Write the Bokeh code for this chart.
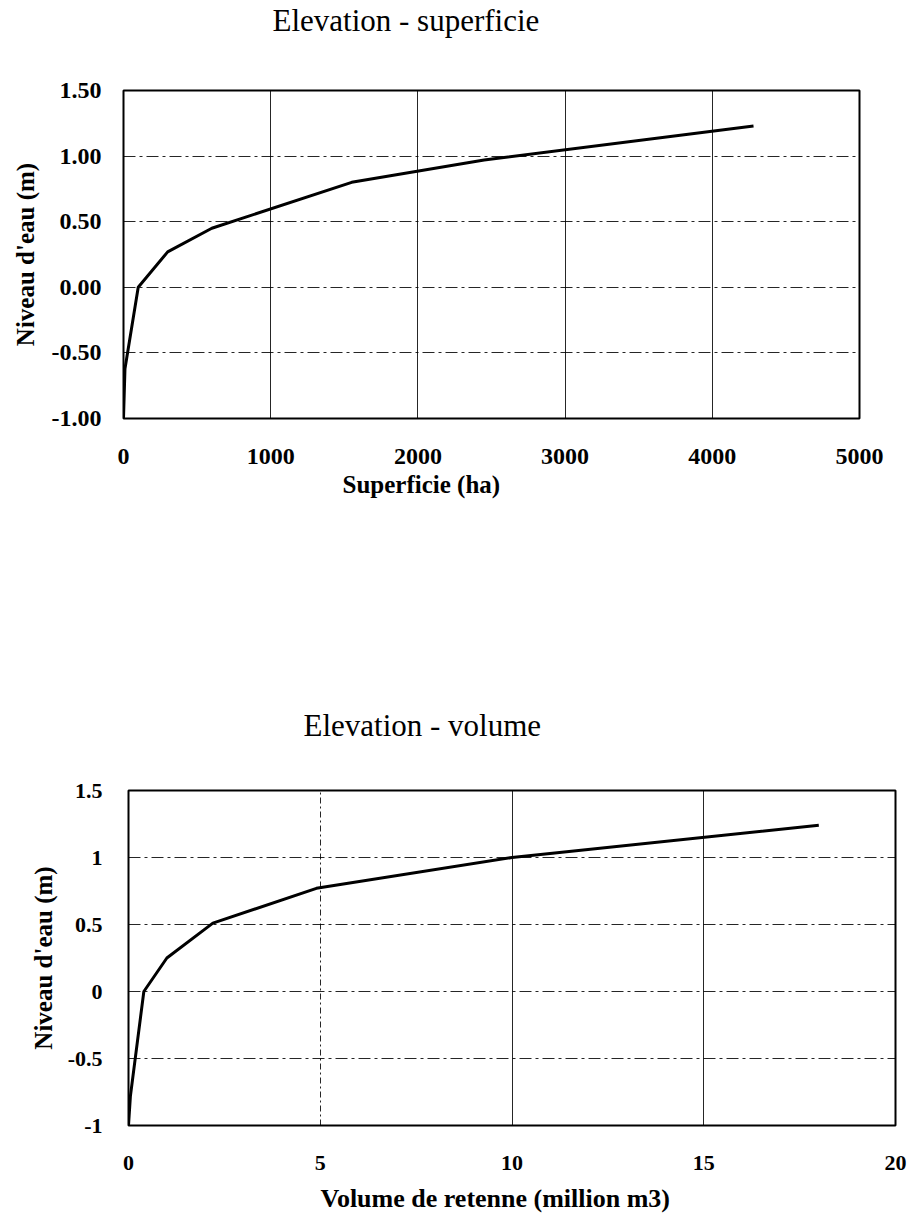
from bokeh.plotting import figure
from bokeh.layouts import column
from bokeh.models import Range1d, FixedTicker, Title, Grid
from bokeh.embed import file_html
from bokeh.resources import INLINE

# ---- data: Elevation - superficie ----
area_ha = [0, 10, 100, 300, 600, 1550, 2450, 4280]
level_area = [-1.0, -0.62, 0.0, 0.27, 0.45, 0.80, 0.97, 1.23]

# ---- data: Elevation - volume ----
volume_mm3 = [0, 0.05, 0.4, 1.0, 2.2, 4.9, 10.0, 18.0]
level_volume = [-1.0, -0.78, 0.0, 0.25, 0.51, 0.77, 1.0, 1.24]

# ---- ticks / labels ----
x1_ticks = [0, 1000, 2000, 3000, 4000, 5000]
y_ticks = [-1.0, -0.5, 0.0, 0.5, 1.0, 1.5]
y1_labels = ["-1.00", "-0.50", "0.00", "0.50", "1.00", "1.50"]
x2_ticks = [0, 5, 10, 15, 20]
x2_dashed_grid = [5]
x2_solid_grid = [10, 15]
y2_labels = ["-1", "-0.5", "0", "0.5", "1", "1.5"]

title1 = "Elevation - superficie"
title2 = "Elevation - volume"
xlabel1 = "Superficie (ha)"
xlabel2 = "Volume de retenne (million m3)"
ylabel = "Niveau d'eau (m)"

SERIF = "Liberation Serif"
DASHDOT = "12 4 3 4"


def style(p, xt, xgrid_t, yt, ylabels, tick_size, xstand, ystand, yl_size, yl_stand):
    p.outline_line_color = "black"
    p.outline_line_width = 2
    p.background_fill_color = "white"
    p.border_fill_color = "white"
    for ax in (p.xaxis[0], p.yaxis[0]):
        ax.axis_line_color = None
        ax.major_tick_line_color = None
        ax.minor_tick_line_color = None
        ax.major_label_text_font = SERIF
        ax.major_label_text_font_style = "bold"
        ax.major_label_text_font_size = f"{tick_size}px"
        ax.major_label_text_color = "black"
        ax.axis_label_text_font = SERIF
        ax.axis_label_text_font_style = "bold"
        ax.axis_label_text_color = "black"
    p.xaxis[0].ticker = FixedTicker(ticks=xt)
    p.yaxis[0].ticker = FixedTicker(ticks=yt)
    p.yaxis[0].major_label_overrides = {v: s for v, s in zip(yt, ylabels)}
    p.xaxis[0].major_label_standoff = xstand
    p.yaxis[0].major_label_standoff = ystand
    p.yaxis[0].axis_label_text_font_size = f"{yl_size}px"
    p.yaxis[0].axis_label_standoff = yl_stand
    p.xgrid.grid_line_color = "black"
    p.xgrid.grid_line_width = 1
    p.xgrid.grid_line_alpha = 0.85
    p.ygrid.grid_line_color = "black"
    p.ygrid.grid_line_width = 1
    p.ygrid.grid_line_alpha = 0.85
    p.ygrid.grid_line_dash = DASHDOT
    p.xgrid.ticker = FixedTicker(ticks=xgrid_t)
    p.ygrid.ticker = FixedTicker(ticks=yt)


def add_title(p, text, offset, gap):
    # empty spacer panel between the frame and the title
    p.add_layout(Title(text=" ", text_font_size="10px", standoff=gap), "above")
    p.add_layout(Title(text=text, text_font=SERIF, text_font_size="31px",
                       text_font_style="normal", text_color="black",
                       align="left", offset=offset, standoff=0), "above")


def add_xlabel(p, text, size, offset, standoff):
    p.add_layout(Title(text=text, text_font=SERIF, text_font_size=f"{size}px",
                       text_font_style="bold", text_color="black",
                       align="left", offset=offset, standoff=standoff), "below")


# ---- figure 1 ----
p1 = figure(width=895, height=548, output_backend="svg", toolbar_location=None,
            x_range=Range1d(0, 5000), y_range=Range1d(-1.0, 1.5),
            min_border_left=123, min_border_right=36, min_border_top=90,
            min_border_bottom=130, title=None, y_axis_label=ylabel)
p1.frame_align = False
add_title(p1, title1, 149, 40)
style(p1, x1_ticks, x1_ticks, y_ticks, y1_labels, 24, 24, 16, 25, 10)
add_xlabel(p1, xlabel1, 25, 219, 4)
p1.line(area_ha, level_area, line_color="black", line_width=3)

# ---- figure 2 ----
p2 = figure(width=908, height=674, output_backend="svg", toolbar_location=None,
            x_range=Range1d(0, 20), y_range=Range1d(-1.0, 1.5),
            min_border_left=128, min_border_right=13, min_border_top=242,
            min_border_bottom=97, title=None, y_axis_label=ylabel)
p2.frame_align = False
add_title(p2, title2, 175, 35)
style(p2, x2_ticks, x2_solid_grid, y_ticks, y2_labels, 22, 24, 20, 25, 8)
p2.add_layout(Grid(dimension=0, ticker=FixedTicker(ticks=x2_dashed_grid),
                   grid_line_color="black", grid_line_width=1,
                   grid_line_alpha=0.85, grid_line_dash="6 3 2 3"))
add_xlabel(p2, xlabel2, 26, 192, 18)
p2.line(volume_mm3, level_volume, line_color="black", line_width=3)

layout = column(p1, p2, spacing=0)
open("out.html", "w").write(file_html(layout, INLINE))
